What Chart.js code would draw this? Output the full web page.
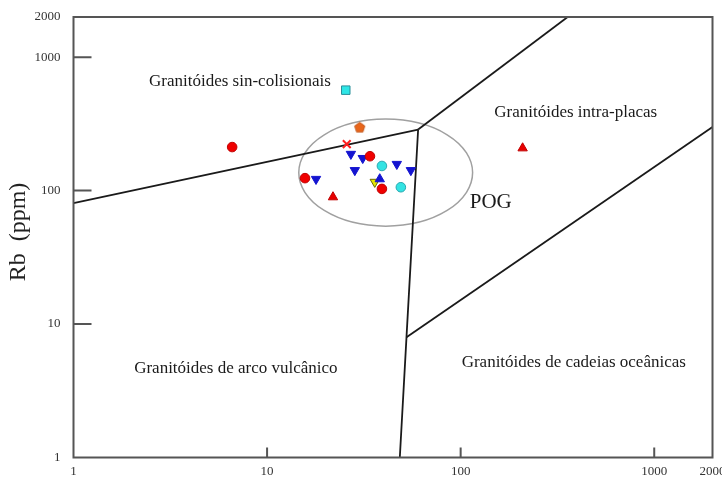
<!DOCTYPE html>
<html><head><meta charset="utf-8">
<script src="https://cdn.jsdelivr.net/npm/chart.js@4/dist/chart.umd.min.js"></script>
<style>html,body{margin:0;padding:0;background:#fff;overflow:hidden}</style>
</head><body>
<canvas id="c" width="722" height="478"></canvas>
<script>
// ---- tick labels ----
const tickValues = [1, 10, 100, 1000, 2000];
const innerTicks = [10, 100, 1000];

// ---- samples (Y+Nb ppm, Rb ppm) ----
const redCirclesX = [6.6, 34.0, 15.7, 39.2];
const redCirclesY = [212, 181, 124, 103];
const blueDownX = [27.1, 31.2, 46.8, 55.3, 28.4, 17.9];
const blueDownY = [188, 175, 158, 142, 142, 122];
const cyanCirclesX = [39.2, 49.1];
const cyanCirclesY = [153, 106];
const redTrianglesX = [21.9, 209];
const redTrianglesY = [89.4, 208];
const blueUpX = [38.2];
const blueUpY = [122];
const yellowDownX = [36.0];
const yellowDownY = [116];
const cyanSquareX = [25.5];
const cyanSquareY = [566];
const orangePentagonX = [30.1];
const orangePentagonY = [299];
const redCrossX = [25.8];
const redCrossY = [223];

// ---- field boundaries ----
const synVagX = [1, 60.3];
const synVagY = [80.6, 287];
const synWpgX = [60.3, 357];
const synWpgY = [287, 2000];
const vagWpgX = [60.3, 52.5, 48.5];
const vagWpgY = [287, 7.95, 1];
const orgWpgX = [52.5, 2000];
const orgWpgY = [7.95, 300];

// ---- POG ellipse (centre in data units, half-axes in decades) ----
const pogCentre = [41.0, 136.4];
const pogHalfAxes = [0.449, 0.401];

// ---- field labels (anchor in data units) ----
const fieldNames = ['Granitóides sin-colisionais', 'Granitóides intra-placas', 'POG',
  'Granitóides de arco vulcânico', 'Granitóides de cadeias oceânicas'];
const fieldX = [7.24, 393, 143, 6.9, 384];
const fieldY = [661, 387, 82, 4.68, 5.19];

const pts = (xs, ys) => xs.map((x, i) => ({x, y: ys[i]}));

// pentagon marker
const pent = document.createElement('canvas');
pent.width = 13; pent.height = 13;
(function(){
  const g = pent.getContext('2d');
  g.beginPath();
  for (let i = 0; i < 5; i++) {
    const a = -Math.PI/2 + i*2*Math.PI/5;
    const px = 6.5 + 5.4*Math.cos(a), py = 7 + 5.4*Math.sin(a);
    i ? g.lineTo(px, py) : g.moveTo(px, py);
  }
  g.closePath();
  g.fillStyle = '#e8661c'; g.fill();
  g.strokeStyle = '#b84c10'; g.lineWidth = 0.8; g.stroke();
})();

function pointSet(data, style, fill, stroke, r, rot, bw) {
  return {data, pointStyle: style, backgroundColor: fill, borderColor: stroke,
    pointRadius: r, pointRotation: rot || 0, borderWidth: bw == null ? 1 : bw, showLine: false};
}
function lineSet(data) {
  return {data, showLine: true, pointRadius: 0, borderColor: '#1a1a1a', borderWidth: 1.8, fill: false};
}

const datasets = [
  pointSet(pts(redCrossX, redCrossY), 'crossRot', '#ff2020', '#ff2020', 5.5, 0, 2),
  pointSet(pts(orangePentagonX, orangePentagonY), pent, '#e8661c', '#b84c10', 6),
  pointSet(pts(cyanSquareX, cyanSquareY), 'rect', '#2ee6e6', '#2a8f9a', 6, 0, 1),
  pointSet(pts(redCirclesX, redCirclesY), 'circle', '#f00000', '#c00000', 4.8),
  pointSet(pts(cyanCirclesX, cyanCirclesY), 'circle', '#33e3e3', '#2aa8b0', 4.8),
  pointSet(pts(blueUpX, blueUpY), 'triangle', '#1414d0', '#1414d0', 5.4, 0),
  pointSet(pts(yellowDownX, yellowDownY), 'triangle', '#e6e600', '#6a6a00', 5.4, 180),
  pointSet(pts(blueDownX, blueDownY), 'triangle', '#1414d0', '#1414d0', 5.4, 180),
  pointSet(pts(redTrianglesX, redTrianglesY), 'triangle', '#e80000', '#c00000', 5.4, 0),
  lineSet(pts(synVagX, synVagY)),
  lineSet(pts(synWpgX, synWpgY)),
  lineSet(pts(vagWpgX, vagWpgY)),
  lineSet(pts(orgWpgX, orgWpgY))
];

const SERIF = '"Liberation Serif", "DejaVu Serif", serif';

const decor = {
  id: 'decor',
  beforeDatasetsDraw(chart) {
    const {ctx, scales: {x, y}} = chart;
    const cx = x.getPixelForValue(pogCentre[0]);
    const cy = y.getPixelForValue(pogCentre[1]);
    const rx = x.getPixelForValue(pogCentre[0] * Math.pow(10, pogHalfAxes[0])) - cx;
    const ry = cy - y.getPixelForValue(pogCentre[1] * Math.pow(10, pogHalfAxes[1]));
    ctx.save();
    ctx.beginPath();
    ctx.ellipse(cx, cy, rx, ry, 0, 0, 2 * Math.PI);
    ctx.strokeStyle = '#a0a0a0';
    ctx.lineWidth = 1.5;
    ctx.stroke();
    ctx.fillStyle = '#1a1a1a';
    ctx.textAlign = 'center';
    ctx.textBaseline = 'middle';
    fieldNames.forEach((t, i) => {
      ctx.font = (t === 'POG' ? '21px ' : '17px ') + SERIF;
      ctx.fillText(t, x.getPixelForValue(fieldX[i]), y.getPixelForValue(fieldY[i]));
    });
    ctx.restore();
  },
  afterDraw(chart) {
    const {ctx, chartArea: a, scales: {x, y}} = chart;
    ctx.save();
    ctx.strokeStyle = '#555';
    ctx.lineWidth = 2;
    ctx.strokeRect(a.left, a.top, a.right - a.left, a.bottom - a.top);
    ctx.beginPath();
    innerTicks.forEach(v => {
      const py = y.getPixelForValue(v);
      ctx.moveTo(a.left, py); ctx.lineTo(a.left + 18, py);
      const px = x.getPixelForValue(v);
      ctx.moveTo(px, a.bottom); ctx.lineTo(px, a.bottom - 10);
    });
    ctx.stroke();
    ctx.translate(19, 232);
    ctx.rotate(-Math.PI / 2);
    ctx.fillStyle = '#222';
    ctx.font = '24px ' + SERIF;
    ctx.textAlign = 'center';
    ctx.textBaseline = 'middle';
    ctx.fillText('Rb  (ppm)', 0, 0);
    ctx.restore();
  }
};

function setTicks(scale) { scale.ticks = tickValues.map(v => ({value: v})); }

new Chart(document.getElementById('c'), {
  type: 'scatter',
  data: {datasets},
  options: {
    responsive: false,
    devicePixelRatio: 1,
    animation: false,
    layout: {padding: {top: 17, right: 9.5, left: 0, bottom: 0}},
    plugins: {legend: {display: false}, tooltip: {enabled: false}},
    scales: {
      x: {
        type: 'logarithmic', min: 1, max: 2000,
        afterBuildTicks: setTicks,
        afterFit(s) { s.height = 20.5; s.paddingLeft = 0; s.paddingRight = 0; },
        grid: {display: false, drawTicks: false},
        border: {display: false},
        ticks: {callback: v => String(v), color: '#333', padding: 6, maxRotation: 0, autoSkip: false,
          font: {family: SERIF, size: 13}}
      },
      y: {
        type: 'logarithmic', min: 1, max: 2000,
        afterBuildTicks: setTicks,
        afterFit(s) { s.width = 73.5; s.paddingTop = 0; s.paddingBottom = 0; },
        grid: {display: false, drawTicks: false},
        border: {display: false},
        ticks: {callback: v => String(v), color: '#333', padding: 13, autoSkip: false,
          font: {family: SERIF, size: 13}}
      }
    }
  },
  plugins: [decor]
});
</script>
</body></html>
